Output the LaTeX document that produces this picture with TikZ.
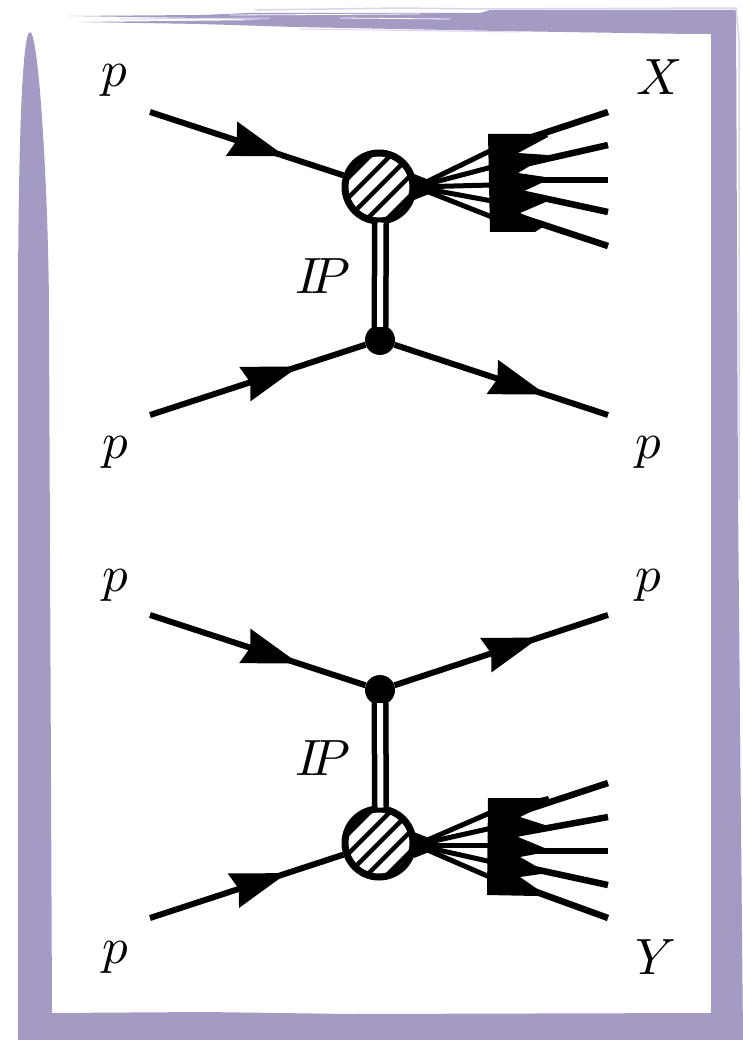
\documentclass[tikz,border=0pt]{standalone}
\usepackage{amsmath}
\usetikzlibrary{arrows.meta,decorations.markings}
\DeclareFontShape{OML}{cmm}{m}{it}{<->cmmi10}{}
\DeclareMathSizes{51}{51}{36}{26}
\definecolor{framecol}{HTML}{A59AC4}
\definecolor{streakcol}{HTML}{DAD5E8}

\begin{document}
\begin{tikzpicture}[x=1pt,y=-1pt,
	lbl/.style={inner sep=0pt,font=\fontsize{51}{60}\selectfont},
	jet/.style={line width=5pt},
	jetout/.style={line width=6.5pt},
	fermion/.style={line width=6pt,postaction={decorate},decoration={markings,
		mark=at position #1 with {\arrow{Stealth[length=56pt,width=35pt,inset=5pt]}}}},
	pomeron/.style={line width=5.5pt,double,double distance=6pt},
	vertex/.style={circle,fill=black,inner sep=0pt,minimum size=30pt},
	blob/.style={circle,draw,fill=white,line width=7pt,inner sep=0pt,minimum size=68pt,
		path picture={\foreach \o in {-20,-10,0,10,20}
			\draw[line width=4.5pt] ([shift={(-45+\o,45+\o)}]path picture bounding box.center)
				-- ([shift={(45+\o,-45+\o)}]path picture bounding box.center);}}]
\useasboundingbox (0,0) rectangle (743,1040);

% frame
\fill[framecol] (67,16) -- (200,15) -- (250,13) -- (480,13) -- (490,10) -- (736,10)
	-- (738,500) -- (743,1040) -- (18,1040) -- (18,320)
	.. controls (18,180) and (21,32) .. (30,32)
	.. controls (39,32) and (49,200) .. (49,320)
	-- (52,1013) -- (205,1012) -- (350,1014) -- (711,1013) -- (711,34) -- (690,34)
	-- (500,31) -- (295,27) -- (200,24) -- (78,22) -- (270,20) -- (200,18) -- cycle;
% streaks
\draw[streakcol,line width=1.5pt] (255,10) -- (400,8) -- (480,9) -- (736,8) -- (739,40) -- (739,500);
\draw[streakcol,line width=1pt] (300,29) -- (520,32) (120,19) -- (270,18);
\draw[white,line width=.8pt] (230,15) -- (420,14) (340,18) -- (450,19);

% upper diagram
\node[blob] (blobx) at (379,187) {};
\node[vertex] (va) at (380,340) {};
\coordinate (fanx) at (416,187);
\coordinate (pa1) at (150,112);
\coordinate (pa2) at (150,415);
\coordinate (pa3) at (608,415);

\draw[fermion=0.70] (pa1) -- (blobx);
\draw[fermion=0.69] (pa2) -- (va);
\draw[fermion=0.71] (va) -- (pa3);
\draw[pomeron] ([shift={(1.5,-2)}]blobx.south) -- ([yshift=-2pt]va.north);

% jets X
\fill (488,134) -- (540,134) -- (546,132) -- (548,137) -- (518,153) -- (548,155) -- (518,173)
	-- (552,178) -- (520,193) -- (548,201) -- (520,213) -- (546,225) -- (535,232) -- (490,232) -- cycle;
\fill (fanx) ++(-2,-13) -- ++(20,8) -- ++(0,10) -- ++(-20,8) -- cycle;
\foreach \i/\y in {1/150,2/167,3/185,4/201,5/217}
{
	\coordinate (xin\i) at (492,\y);
	\draw[jet] (fanx) -- (xin\i);
}
\foreach \i/\ya/\yb in {1/141/112,2/165/145,3/180/180,4/193/212,5/217/246}
{
	\coordinate (xs\i) at (520,\ya);
	\coordinate (xe\i) at (608,\yb);
	\draw[jetout] (xs\i) -- (xe\i);
}

% lower diagram
\node[blob] (bloby) at (379,843) {};
\node[vertex] (vb) at (380,690) {};
\coordinate (fany) at (416,845);
\coordinate (pb1) at (150,615);
\coordinate (pb2) at (608,615);
\coordinate (pb3) at (150,918);

\draw[fermion=0.69] (pb1) -- (vb);
\draw[fermion=0.68] (vb) -- (pb2);
\draw[fermion=0.71] (pb3) -- (bloby);
\draw[pomeron] ([yshift=2pt]vb.south) -- ([shift={(1.5,2)}]bloby.north);

% jets Y
\fill (488,798) -- (540,798) -- (548,796) -- (550,802) -- (520,817) -- (548,826) -- (518,837)
	-- (552,851) -- (520,857) -- (548,873) -- (520,877) -- (546,895) -- (537,896) -- (487,895) -- cycle;
\fill (fany) ++(-2,-13) -- ++(20,8) -- ++(0,10) -- ++(-20,8) -- cycle;
\foreach \i/\y in {1/812,2/828,3/845,4/862,5/878}
{
	\coordinate (yin\i) at (492,\y);
	\draw[jet] (fany) -- (yin\i);
}
\foreach \i/\ya/\yb in {1/812/783,2/833/817,3/851/851,4/866/885,5/886/918}
{
	\coordinate (ys\i) at (520,\ya);
	\coordinate (ye\i) at (608,\yb);
	\draw[jetout] (ys\i) -- (ye\i);
}

% labels
\node[lbl] (la1) at (114,80) {$p$};
\node[lbl] (la2) at (660,77) {$X$};
\node[lbl] (la3) at (115,452) {$p$};
\node[lbl] (la4) at (648,452) {$p$};
\node[lbl] (la5) at (323,276) {$I\mkern-8mu P$};
\node[lbl] (lb1) at (115,585) {$p$};
\node[lbl] (lb2) at (648,585) {$p$};
\node[lbl] (lb3) at (323,758) {$I\mkern-8mu P$};
\node[lbl] (lb4) at (115,957) {$p$};
\node[lbl] (lb5) at (656,957) {$Y$};
\end{tikzpicture}
\end{document}
